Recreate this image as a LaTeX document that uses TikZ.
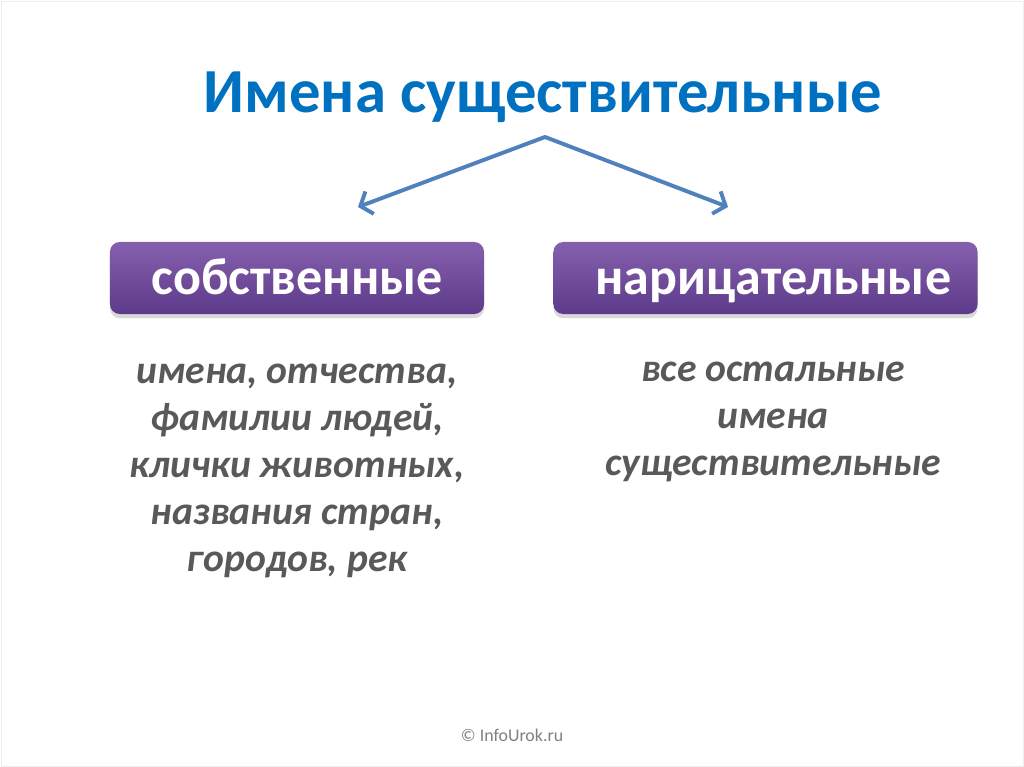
\documentclass[tikz,border=0pt]{standalone}
\usepackage{fontspec}
\setmainfont{Carlito}
\usetikzlibrary{arrows.meta,positioning,shadows}
\definecolor{titleblue}{HTML}{0070C0}
\definecolor{arrowblue}{HTML}{4F81BD}
\definecolor{boxtop}{HTML}{8560AE}
\definecolor{boxbot}{HTML}{5D3A8A}
\definecolor{notegray}{HTML}{595959}
\definecolor{footgray}{HTML}{808080}
\definecolor{framegray}{HTML}{EEEEEE}

\begin{document}
\begin{tikzpicture}[
  x=0.025cm, y=-0.025cm,
  heading/.style = {font=\bfseries\fontsize{44.6}{52}\selectfont, text=titleblue},
  kind/.style    = {rounded corners=7pt, minimum height=1.8cm, inner sep=0pt,
                    top color=boxtop, bottom color=boxbot, text=white,
                    font=\bfseries\fontsize{37}{44}\selectfont,
                    text height=30pt, text depth=6pt,
                    drop shadow={shadow xshift=0pt, shadow yshift=-3pt, opacity=0.3}},
  note/.style    = {align=center, text=notegray,
                    font=\bfseries\itshape\fontsize{28.2}{33.4}\selectfont},
  flow/.style    = {-{Straight Barb[length=7pt,width=17pt,line width=2.8pt]},
                    line width=2.8pt, draw=arrowblue, line cap=round, line join=round},
  foot/.style    = {font=\fontsize{12.7}{15}\selectfont, text=footgray},
]

% ---------- page frame ----------------------------------------------------------------------
\useasboundingbox (0,0) rectangle (1024,767);
\draw[framegray, line width=0.6pt] (1,1) rectangle (1023,766);

% ---------- title and fork ------------------------------------------------------------------
\node[heading] (title) at (543,97) {Имена существительные};
\coordinate (apex)  at (545,137);
\coordinate (ltip)  at (358,207);
\coordinate (rtip)  at (728,207);
\draw[flow] (apex) -- (ltip);
\draw[flow] (apex) -- (rtip);

% ---------- the two kinds -------------------------------------------------------------------
\node[kind, minimum width=9.35cm]  (own)    at (297,278)   {собственные};
\node[kind, minimum width=10.6cm]  (common) at (765.5,278) {\hspace*{11pt}нарицательные};

\node[note] (ownnote)    at (297,471) {имена, отчества,\\фамилии людей,\\клички животных,\\названия стран,\\городов, рек};
\node[note] (commonnote) at (773,422) {все остальные\\имена\\существительные};

% ---------- footer --------------------------------------------------------------------------
\node[foot] (credit) at (512,735) {© InfoUrok.ru};

\end{tikzpicture}
\end{document}
